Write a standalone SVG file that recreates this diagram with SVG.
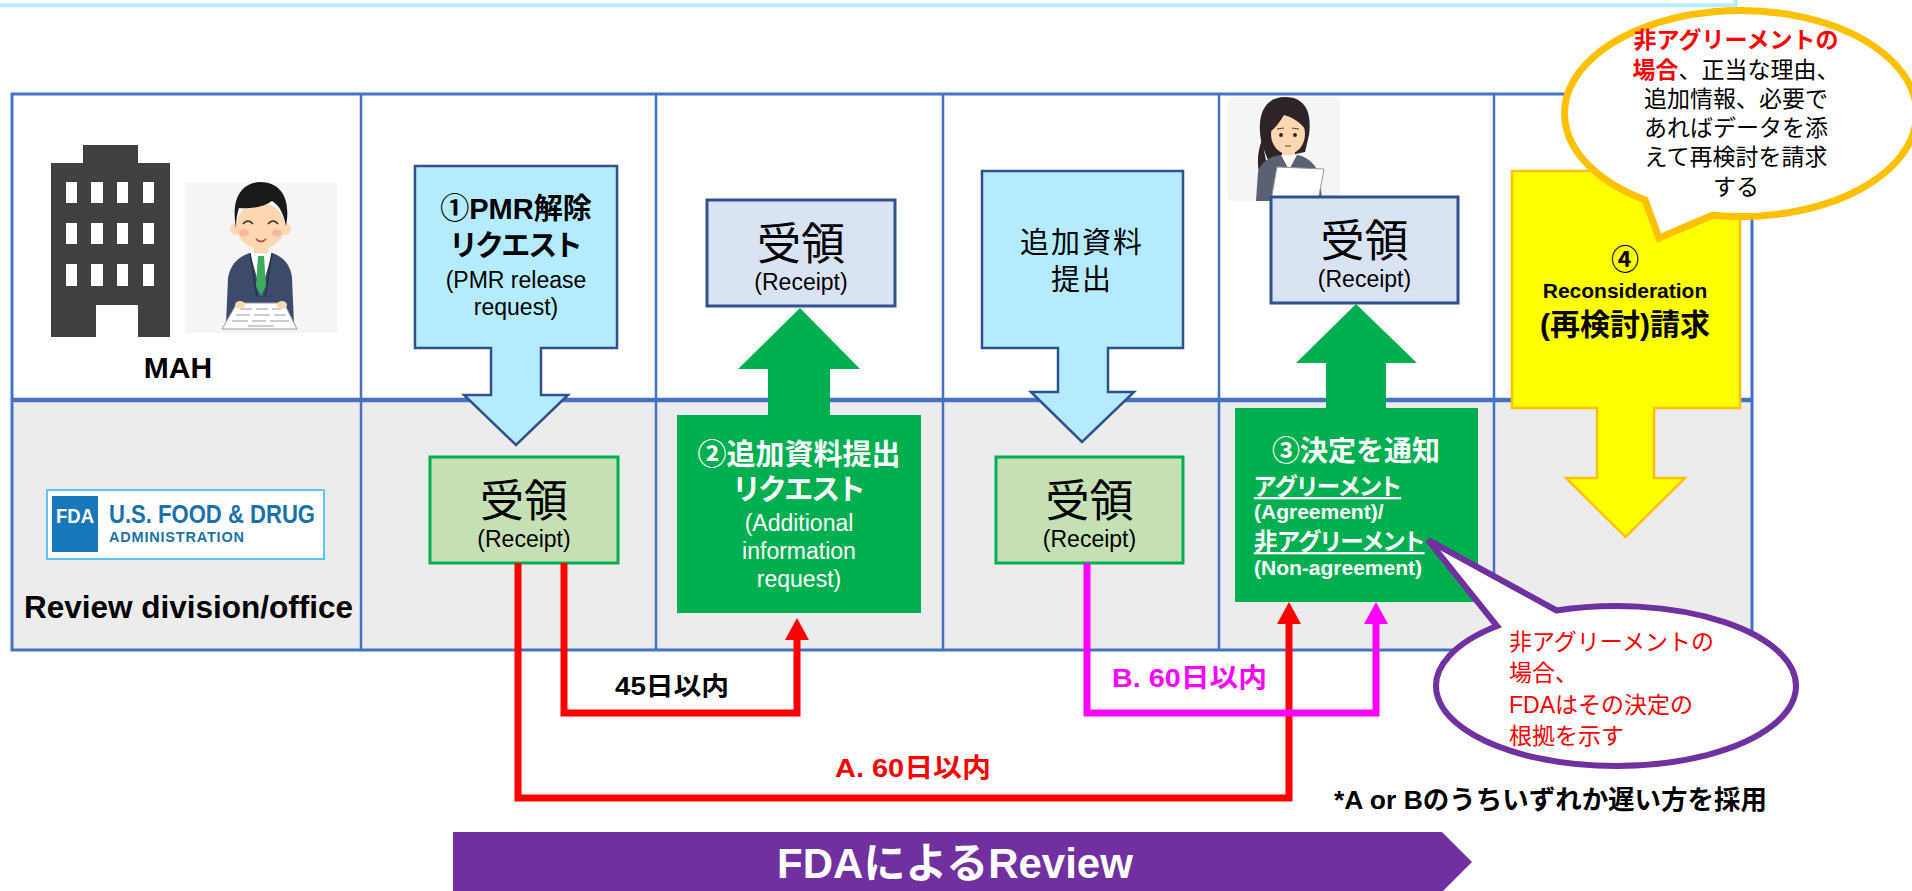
<svg xmlns="http://www.w3.org/2000/svg" width="1912" height="891" viewBox="0 0 1912 891">
<defs>
<style>
text{font-family:"Liberation Sans","Noto Sans CJK JP",sans-serif;}
.b{font-weight:bold;}
.c{text-anchor:middle;}
.w{fill:#ffffff;}
.u{text-decoration:underline;}
.grid{stroke:#4472c4;fill:none;}
.req{fill:#b4ecfd;stroke:#2f528f;stroke-width:2.5;}
.rcpt-g{fill:#c5e0b4;stroke:#00b050;stroke-width:3;}
.rcpt-b{fill:#dae3f3;stroke:#2f528f;stroke-width:3;}
.grn{fill:#00b050;}
.big{font-size:44px;}
.sub{font-size:23px;}
.palt{font-feature-settings:"palt";}
.skin{fill:#fdd6b2;}
.conn{fill:none;stroke-width:7;stroke-linejoin:miter;}
</style>
<marker id="ahR" viewBox="0 0 22 24" refX="1" refY="12" markerWidth="22" markerHeight="24" markerUnits="userSpaceOnUse" orient="auto"><path d="M0,0L22,12L0,24Z" fill="#ff0000"/></marker>
<marker id="ahM" viewBox="0 0 22 24" refX="1" refY="12" markerWidth="22" markerHeight="24" markerUnits="userSpaceOnUse" orient="auto"><path d="M0,0L22,12L0,24Z" fill="#ff00ff"/></marker>
</defs>

<rect width="1912" height="891" fill="#ffffff"/>

<!-- header band edge -->
<path d="M-5,5.3 H1735.5 V-5" fill="none" stroke="#b4ecfd" stroke-width="4"/>

<!-- swimlane table -->
<g id="table">
<rect x="12" y="400" width="1740" height="250" fill="#ececec"/>
<rect x="12" y="94" width="1740" height="556" class="grid" stroke-width="3"/>
<line x1="12" y1="400" x2="1752" y2="400" class="grid" stroke-width="4.5"/>
<g class="grid" stroke-width="2.5">
<line x1="361" y1="94" x2="361" y2="650"/>
<line x1="656" y1="94" x2="656" y2="650"/>
<line x1="943" y1="94" x2="943" y2="650"/>
<line x1="1219" y1="94" x2="1219" y2="650"/>
<line x1="1494" y1="94" x2="1494" y2="650"/>
</g>
</g>

<!-- MAH lane header -->
<g id="mah">
<g fill="#404040">
<rect x="83" y="145" width="55" height="20"/>
<rect x="51" y="163" width="119" height="174"/>
</g>
<g fill="#ffffff">
<rect x="66" y="182" width="11" height="21"/><rect x="91" y="182" width="12" height="21"/><rect x="117" y="182" width="11" height="21"/><rect x="143" y="182" width="11" height="21"/>
<rect x="66" y="223" width="11" height="21"/><rect x="91" y="223" width="12" height="21"/><rect x="117" y="223" width="11" height="21"/><rect x="143" y="223" width="11" height="21"/>
<rect x="66" y="264" width="11" height="22"/><rect x="91" y="264" width="12" height="22"/><rect x="117" y="264" width="11" height="22"/><rect x="143" y="264" width="11" height="22"/>
<rect x="96" y="305" width="42" height="33"/>
</g>
<g id="mah-person">
<rect x="185" y="183" width="152" height="150" fill="#f5f5f5"/>
<rect x="254" y="242" width="14" height="14" class="skin"/>
<path d="M226,324 L228,278 Q231,259 250,253 L272,253 Q290,259 292,278 L294,324 Z" fill="#3c4b6c"/>
<path d="M250,253 L272,253 L261,292 Z" fill="#ffffff"/>
<path d="M258,256 L264,256 L266,286 L261,296 L256,286 Z" fill="#3cab5c"/>
<path d="M250,253 L257,297 M272,253 L265,297" stroke="#27324a" stroke-width="1.5" fill="none"/>
<circle cx="236" cy="229" r="6" class="skin"/>
<circle cx="285" cy="229" r="6" class="skin"/>
<ellipse cx="260.5" cy="226" rx="24" ry="23" class="skin"/>
<path d="M236,228 C231,200 240,183 260,182 C282,182 291,200 286,226 C283,212 279,205 272,201 C262,208 248,209 239,208 C237,214 236,220 236,228 Z" fill="#1a1a1a"/>
<path d="M243,224 Q248,218 253,224 M268,224 Q273,218 278,224" stroke="#3a2a20" stroke-width="1.6" fill="none"/>
<ellipse cx="244" cy="233" rx="5" ry="3.5" fill="#f4a09a" opacity="0.6"/>
<ellipse cx="277" cy="233" rx="5" ry="3.5" fill="#f4a09a" opacity="0.6"/>
<path d="M256,239 Q261,244 266,239" stroke="#b03a2e" stroke-width="1.5" fill="none"/>
<path d="M237,303 L284,303 L297,329 L222,329 Z" fill="#ffffff" stroke="#9a9a9a" stroke-width="1"/>
<path d="M240,309 H252 M256,309 H268 M272,309 H281 M236,315 H250 M254,315 H270 M274,315 H286 M232,321 H248 M252,321 H266 M270,321 H289 M248,326 H274" stroke="#9a9a9a" stroke-width="1.2"/>
<ellipse cx="240" cy="305" rx="5" ry="4" class="skin"/>
<ellipse cx="282" cy="305" rx="5" ry="4" class="skin"/>
</g>
<text x="178" y="378" class="b c" font-size="30">MAH</text>
</g>

<!-- FDA lane header -->
<g id="fda">
<rect x="47" y="490" width="277" height="69" fill="#ffffff" stroke="#5cc8f2" stroke-width="2"/>
<rect x="52" y="496" width="46" height="56" fill="#1677b9"/>
<text x="75" y="523" font-size="21" class="b c w" textLength="38" lengthAdjust="spacingAndGlyphs">FDA</text>
<text x="109" y="523" font-size="25" class="b" fill="#1a72aa" textLength="206" lengthAdjust="spacingAndGlyphs">U.S. FOOD &amp; DRUG</text>
<text x="109" y="542" font-size="14.5" class="b" fill="#1a72aa" textLength="135" lengthAdjust="spacing">ADMINISTRATION</text>
<text x="24" y="618" class="b" font-size="31.5">Review division/office</text>
</g>

<!-- step 1: release request -->
<g id="req1">
<path class="req" d="M415,166 H617 V348 H541 V395 H568 L516,445 L464,395 H491 V348 H415 Z"/>
<text x="516" y="219" class="b c" font-size="29">①PMR解除</text>
<text x="516" y="256" class="b c palt" font-size="29">リクエスト</text>
<text x="516" y="288" class="c sub">(PMR release</text>
<text x="516" y="315" class="c sub">request)</text>
</g>

<g id="rcpt1">
<rect x="430" y="457" width="188" height="106" class="rcpt-g"/>
<text x="524" y="517" class="c big">受領</text>
<text x="524" y="547" class="c sub">(Receipt)</text>
</g>

<!-- step 2: additional information request -->
<g id="addreq">
<path class="grn" d="M800,308 L860,369 H830 V420 H768 V369 H738 Z"/>
<rect x="677" y="415" width="244" height="198" class="grn"/>
<text x="799" y="465" class="b c w" font-size="29">②追加資料提出</text>
<text x="799" y="500" class="b c w palt" font-size="29">リクエスト</text>
<text x="799" y="531" class="c w sub">(Additional</text>
<text x="799" y="559" class="c w sub">information</text>
<text x="799" y="587" class="c w sub">request)</text>
</g>

<g id="rcpt2">
<rect x="707" y="200" width="188" height="106" class="rcpt-b"/>
<text x="801" y="260" class="c big">受領</text>
<text x="801" y="290" class="c sub">(Receipt)</text>
</g>

<!-- additional data submission -->
<g id="submit">
<path class="req" d="M982,171 H1183 V348 H1108 V392 H1134 L1082,442 L1031,392 H1058 V348 H982 Z"/>
<text x="1082" y="253" class="c" font-size="29" letter-spacing="2">追加資料</text>
<text x="1082" y="290" class="c" font-size="29" letter-spacing="2">提出</text>
</g>

<g id="rcpt3">
<rect x="996" y="457" width="187" height="106" class="rcpt-g"/>
<text x="1089.5" y="517" class="c big">受領</text>
<text x="1089.5" y="547" class="c sub">(Receipt)</text>
</g>

<!-- step 3: decision notice -->
<g id="reviewer-person">
<rect x="1227" y="97" width="113" height="104" rx="6" fill="#f5f5f5"/>
<path d="M1262,145 C1255,115 1265,97 1285,97 C1305,97 1312,112 1309,135 L1305,152 L1268,160 Z" fill="#2e2428"/>
<path d="M1262,140 C1256,155 1257,170 1262,182 L1269,176 Z" fill="#2e2428"/>
<rect x="1282" y="148" width="13" height="10" class="skin"/>
<path d="M1256,201 L1258,172 Q1262,158 1280,155 L1298,155 Q1314,159 1320,176 L1322,201 Z" fill="#5a6173"/>
<path d="M1281,155 L1297,155 L1289,170 Z" fill="#ffffff"/>
<ellipse cx="1288" cy="134" rx="17" ry="20" class="skin"/>
<path d="M1270,132 C1268,110 1280,103 1292,104 C1303,106 1308,115 1306,130 C1300,122 1292,117 1284,115 C1280,122 1275,128 1270,132 Z" fill="#2e2428"/>
<circle cx="1281" cy="135" r="1.9" fill="#222"/>
<circle cx="1295" cy="135" r="1.9" fill="#222"/>
<path d="M1277,129 L1284,128 M1292,128 L1299,129 M1285,146 H1291" stroke="#6a3e30" stroke-width="1.2" fill="none"/>
<path d="M1277,167 L1324,169 L1318,201 L1271,201 Z" fill="#ffffff" stroke="#9a9a9a" stroke-width="1"/>
</g>

<g id="rcpt4">
<rect x="1271" y="197" width="187" height="106" class="rcpt-b"/>
<text x="1364.5" y="257" class="c big">受領</text>
<text x="1364.5" y="287" class="c sub">(Receipt)</text>
</g>

<g id="decision">
<path class="grn" d="M1356,304 L1417,363 H1386 V412 H1326 V363 H1296 Z"/>
<rect x="1235" y="408" width="243" height="194" class="grn"/>
<text x="1356" y="461" class="b c w" font-size="28">③決定を通知</text>
<text x="1254" y="495" class="b w palt u" font-size="23.5">アグリーメント</text>
<text x="1254" y="519" class="b w" font-size="21">(Agreement)/</text>
<text x="1254" y="550" class="b w palt u" font-size="23.5">非アグリーメント</text>
<text x="1254" y="575" class="b w" font-size="21">(Non-agreement)</text>
</g>

<!-- step 4: reconsideration request -->
<g id="recon">
<path d="M1512,171 H1740 V408 H1654 V478 H1685 L1625.5,537 L1566,478 H1597 V408 H1512 Z" fill="#ffff00" stroke="#ffc000" stroke-width="2.5"/>
<text x="1625" y="270" class="b c" font-size="28">④</text>
<text x="1625" y="298" class="b c" font-size="21">Reconsideration</text>
<text x="1625" y="335" class="b c" font-size="30">(再検討)請求</text>
</g>

<!-- timing connectors -->
<g id="connectors">
<path class="conn" stroke="#ff0000" d="M518,563 V798 H1289 V623" marker-end="url(#ahR)"/>
<path class="conn" stroke="#ff0000" d="M564,563 V713 H797 V639" marker-end="url(#ahR)"/>
<path class="conn" stroke="#ff00ff" d="M1087,563 V713 H1376 V623" marker-end="url(#ahM)"/>
<text x="615" y="695" class="b" font-size="25" textLength="114" lengthAdjust="spacingAndGlyphs">45日以内</text>
<text x="835" y="777" class="b" font-size="26" fill="#ff0000" textLength="156" lengthAdjust="spacingAndGlyphs">A. 60日以内</text>
<text x="1112" y="687" class="b" font-size="26" fill="#ff00ff" textLength="155" lengthAdjust="spacingAndGlyphs">B. 60日以内</text>
</g>

<text x="1334" y="809" class="b" font-size="26" textLength="433" lengthAdjust="spacingAndGlyphs">*A or Bのうちいずれか遅い方を採用</text>

<!-- callouts -->
<g id="callout-recon">
<path d="M1712.5,215.2 L1659,238 L1645,200 A176,103 0 1,1 1712.5,215.2 Z" fill="#ffffff" stroke="#ffc000" stroke-width="7" stroke-linejoin="miter"/>
<g class="c" font-size="23">
<text x="1736" y="48" class="b" fill="#ff0000">非アグリーメントの</text>
<text x="1736" y="78"><tspan class="b" fill="#ff0000">場合</tspan>、正当な理由、</text>
<text x="1736" y="107">追加情報、必要で</text>
<text x="1736" y="136">あればデータを添</text>
<text x="1736" y="165">えて再検討を請求</text>
<text x="1736" y="195">する</text>
</g>
</g>

<g id="callout-reason">
<path d="M1556.6,610.5 L1428,540 L1497,626 A180,80 0 1,0 1556.6,610.5 Z" fill="#ffffff" stroke="#7030a0" stroke-width="6" stroke-linejoin="miter"/>
<g font-size="23" fill="#ff0000">
<text x="1509" y="650">非アグリーメントの</text>
<text x="1509" y="681">場合、</text>
<text x="1509" y="713">FDAはその決定の</text>
<text x="1509" y="744">根拠を示す</text>
</g>
</g>

<!-- review period banner -->
<g id="banner">
<path d="M453,832 H1442 L1472,862 L1442,892 H453 Z" fill="#7030a0"/>
<text x="955" y="878" class="b c w" font-size="42">FDAによるReview</text>
</g>
</svg>
